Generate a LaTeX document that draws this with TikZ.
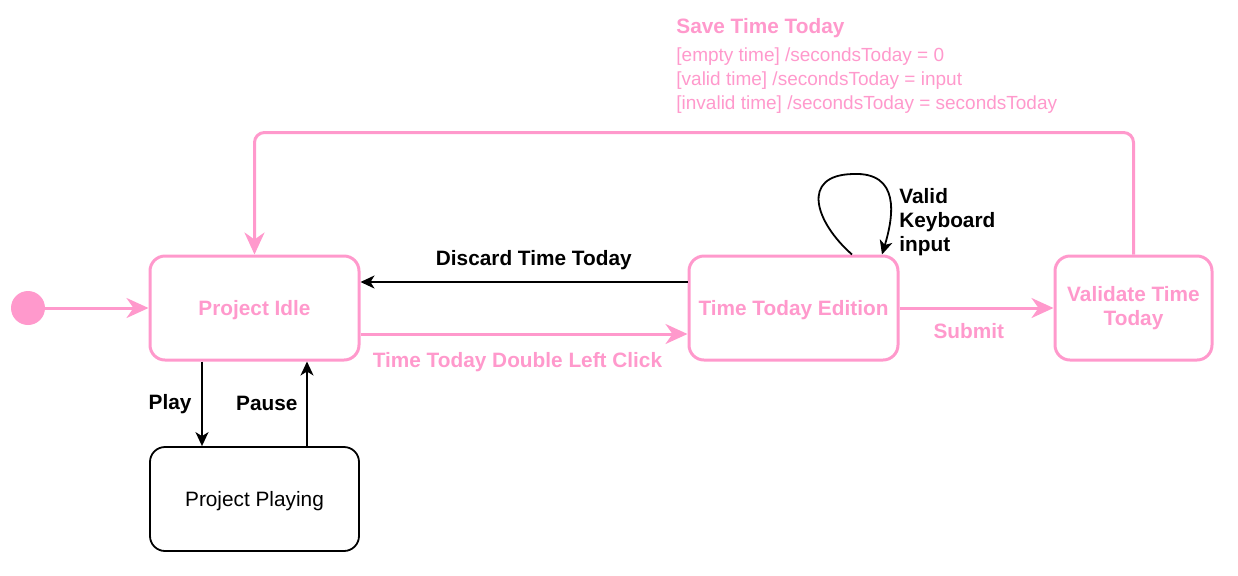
\documentclass[tikz,border=0pt]{standalone}
\usepackage{fontspec}
\setmainfont{Liberation Sans}
\usetikzlibrary{arrows.meta}
\definecolor{statepink}{HTML}{FF99CC}

\begin{document}
\begin{tikzpicture}[x=0.5pt, y=-0.5pt,
    pinkstate/.style = {draw=statepink, line width=1.5pt, rounded corners=7.5pt,
        minimum width=104.5pt, minimum height=52pt, text=statepink, align=center,
        font=\bfseries\fontsize{10.4}{12}\selectfont},
    plainstate/.style = {draw, line width=0.9pt, rounded corners=7.5pt,
        minimum width=104.5pt, minimum height=52pt, font=\fontsize{10.4}{12}\selectfont},
    oneline/.style = {text height=9.8pt, text depth=2.2pt},
    pinkflow/.style = {draw=statepink, line width=1.5pt,
        -{Stealth[length=11pt, width=10pt, inset=3.5pt]}},
    blackflow/.style = {draw, line width=0.9pt,
        -{Stealth[length=7pt, width=6.5pt, inset=2pt]}},
    lbl/.style = {font=\bfseries\fontsize{10.4}{12}\selectfont},
    pinklbl/.style = {lbl, text=statepink}]
    \useasboundingbox (0,0) rectangle (1238,575);
    % states
    \node[circle, fill=statepink, minimum size=17pt, inner sep=0pt] (start) at (28,308) {};
    \node[pinkstate, oneline] (idle) at (254.5,308) {Project Idle};
    \node[pinkstate, oneline] (edit) at (793.5,308) {Time Today Edition};
    \node[pinkstate, minimum width=78.5pt] (check) at (1133.5,308) {Validate Time\\Today};
    \node[plainstate, oneline] (playing) at (254.5,499) {Project Playing};
    % transitions
    \draw[pinkflow] (start) -- (idle);
    \draw[blackflow] ([yshift=13pt]edit.west) -- node[lbl, pos=0.47, above=2.5pt] {Discard Time Today} ([yshift=13pt]idle.east);
    \draw[pinkflow] ([yshift=-13pt]idle.east) -- node[pinklbl, pos=0.48, below=5pt] {Time Today Double Left Click} ([yshift=-13pt]edit.west);
    \draw[pinkflow] (edit) -- node[pinklbl, pos=0.45, below=3.5pt] {Submit} (check);
    \draw[blackflow] ([xshift=-26.25pt]idle.south) -- node[lbl, left=1.5pt] {Play} ([xshift=-26.25pt]playing.north);
    \draw[blackflow] ([xshift=26.25pt]playing.north) -- node[lbl, left=1pt] {Pause} ([xshift=26.25pt]idle.south);
    \coordinate (looptop) at (853,174);
    \draw[blackflow] ([xshift=29.25pt]edit.north) .. controls (815,222) and (800,175) .. (looptop)
        .. controls (900,172) and (894,215) .. ([xshift=44.25pt]edit.north);
    \node[lbl, anchor=west, inner sep=0pt, align=left] (keyinput) at (899,222) {Valid\\Keyboard\\input};
    \draw[pinkflow, rounded corners=5pt] (check.north) -- ++(0,-122) -| (idle.north);
    % guard text
    \node[pinklbl, anchor=west, inner sep=0pt] (savetitle) at (676,28.5) {Save Time Today};
    \node[anchor=west, inner sep=0pt, align=left, text=statepink,
        font=\fontsize{9.5}{12}\selectfont] (saveguards) at (676,80.5)
        {{[empty time] /secondsToday = 0}\\{[valid time] /secondsToday = input}\\{[invalid time] /secondsToday = secondsToday}};
\end{tikzpicture}
\end{document}
